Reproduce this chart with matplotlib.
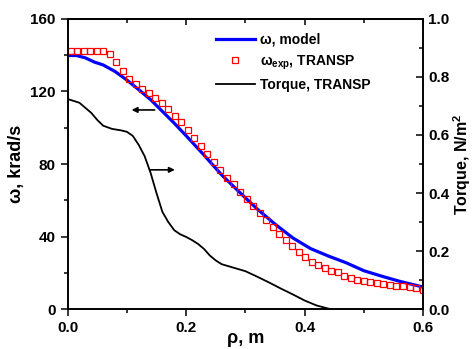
import matplotlib.pyplot as plt
from matplotlib.ticker import MultipleLocator

plt.rcParams['font.family'] = ['Liberation Sans', 'DejaVu Sans']
plt.rcParams['font.weight'] = 'bold'
plt.rcParams['mathtext.fontset'] = 'custom'
plt.rcParams['mathtext.rm'] = 'Liberation Sans:bold'
plt.rcParams['mathtext.bf'] = 'Liberation Sans:bold'
plt.rcParams['mathtext.it'] = 'Liberation Sans:bold'

# omega from the model (krad/s)
rho_model = [0.0, 0.015, 0.03, 0.045, 0.06, 0.08, 0.1, 0.12, 0.14, 0.16, 0.18,
             0.2, 0.23, 0.26, 0.29, 0.32, 0.35, 0.38, 0.41, 0.44, 0.47, 0.5,
             0.53, 0.56, 0.6]
omega_model = [139.8, 139.8, 138.5, 136.2, 134.6, 131.0, 126.3, 121.0, 115.5,
               109.0, 102.5, 95.6, 85.0, 74.0, 64.5, 55.2, 46.9, 39.3, 33.4,
               29.3, 25.6, 21.2, 18.2, 15.4, 12.2]

# omega_exp from TRANSP
rho_exp = [0.005, 0.016, 0.027, 0.038, 0.049, 0.060, 0.071, 0.082, 0.093,
           0.104, 0.115, 0.126, 0.137, 0.148, 0.159, 0.170, 0.181, 0.192,
           0.203, 0.214, 0.225, 0.236, 0.247, 0.258, 0.269, 0.280, 0.291,
           0.302, 0.313, 0.324, 0.335, 0.346, 0.357, 0.368, 0.379, 0.390,
           0.401, 0.412, 0.423, 0.434, 0.445, 0.456, 0.467, 0.478, 0.489,
           0.500, 0.511, 0.522, 0.533, 0.544, 0.555, 0.566, 0.577, 0.588,
           0.599]
omega_exp = [142.3, 142.3, 142.3, 142.3, 142.3, 142.3, 140.7, 136.3, 131.3,
             127.1, 124.3, 121.6, 119.0, 116.5, 113.7, 110.4, 106.7, 102.9,
             98.7, 94.2, 89.8, 85.4, 81.0, 76.6, 72.5, 68.9, 64.8, 61.0, 56.9,
             52.9, 49.0, 45.4, 41.7, 38.2, 34.7, 31.4, 28.7, 26.2, 24.4, 22.6,
             21.0, 20.5, 18.4, 17.1, 16.1, 15.4, 14.9, 14.3, 13.8, 13.4, 12.8,
             12.8, 12.5, 11.6, 10.8]

# torque from TRANSP (N/m^2)
rho_torque = [0.0, 0.02, 0.04, 0.05, 0.06, 0.075, 0.09, 0.1, 0.11, 0.12, 0.13,
              0.14, 0.15, 0.16, 0.17, 0.18, 0.19, 0.2, 0.21, 0.22, 0.23, 0.24,
              0.25, 0.26, 0.28, 0.3, 0.32, 0.34, 0.36, 0.38, 0.4, 0.42, 0.44,
              0.46, 0.48, 0.5, 0.53, 0.56, 0.6]
torque = [0.724, 0.711, 0.676, 0.652, 0.632, 0.621, 0.616, 0.611, 0.597,
          0.566, 0.527, 0.470, 0.400, 0.335, 0.300, 0.272, 0.258, 0.249,
          0.238, 0.225, 0.208, 0.185, 0.168, 0.155, 0.143, 0.131, 0.112,
          0.092, 0.071, 0.051, 0.030, 0.013, 0.002, -0.005, -0.009, -0.010,
          -0.010, -0.008, -0.003]

fig, ax = plt.subplots(figsize=(4.76, 3.49), dpi=100)
fig.subplots_adjust(left=0.142, right=0.889, bottom=0.114, top=0.946)
ax2 = ax.twinx()

l1, = ax.plot(rho_model, omega_model, color='#0000ff', lw=2.3,
              label='ω, model', zorder=3)
l2, = ax.plot(rho_exp, omega_exp, ls='none', marker='s', ms=3.8, mfc='none',
              mec='#ff0000', mew=0.9, label=r'ω$_{\mathrm{exp}}$, TRANSP',
              zorder=4)
l3, = ax2.plot(rho_torque, torque, color='black', lw=1.3,
               label='Torque, TRANSP')

ax.set_xlim(0, 0.6)
ax.set_ylim(0, 160)
ax2.set_ylim(0, 1.0)

ax.xaxis.set_major_locator(MultipleLocator(0.2))
ax.xaxis.set_minor_locator(MultipleLocator(0.1))
ax.yaxis.set_major_locator(MultipleLocator(40))
ax.yaxis.set_minor_locator(MultipleLocator(20))
ax2.yaxis.set_major_locator(MultipleLocator(0.2))
ax2.yaxis.set_minor_locator(MultipleLocator(0.1))

ax.tick_params(which='major', direction='out', length=5, width=1.1,
               labelsize=11, top=False, right=False)
ax.tick_params(which='minor', direction='out', length=3, width=1.1,
               top=False, right=False)
ax2.tick_params(which='major', direction='in', length=5, width=1.1,
                labelsize=11)
ax2.tick_params(which='minor', direction='in', length=3, width=1.1)

# top ticks point inward
top = ax.secondary_xaxis('top')
top.xaxis.set_major_locator(MultipleLocator(0.2))
top.xaxis.set_minor_locator(MultipleLocator(0.1))
top.tick_params(which='major', direction='in', length=4, width=1.1,
                labeltop=False)
top.tick_params(which='minor', direction='in', length=3, width=1.1)

for a in (ax, ax2):
    for s in a.spines.values():
        s.set_linewidth(1.2)
top.spines['top'].set_linewidth(1.2)

ax.set_xlabel('ρ, m', fontsize=13, fontweight='bold')
ax.set_ylabel('ω, krad/s', fontsize=13, fontweight='bold')
ax2.set_ylabel('Torque, N/m$^{2}$', fontsize=11.5, fontweight='bold')
ax.xaxis.set_label_coords(0.5, -0.071)
ax.yaxis.set_label_coords(-0.12, 0.5)
ax2.yaxis.set_label_coords(1.08, 0.5)

# arrows pointing to which axis each curve belongs to
ax.annotate('', xy=(0.108, 109.8), xytext=(0.147, 109.8),
            arrowprops=dict(arrowstyle='-|>', color='black', lw=1.2,
                            mutation_scale=8, shrinkA=0, shrinkB=0))
ax.annotate('', xy=(0.181, 76.8), xytext=(0.139, 76.8),
            arrowprops=dict(arrowstyle='-|>', color='black', lw=1.2,
                            mutation_scale=8, shrinkA=0, shrinkB=0))

ax2.legend(handles=[l1, l2, l3], loc='upper left',
           bbox_to_anchor=(216 / 476, 1 - 33 / 349),
           bbox_transform=fig.transFigure, frameon=False, fontsize=10,
           handlelength=2.8, handletextpad=0.35, labelspacing=0.45,
           borderpad=0, borderaxespad=0, numpoints=1)

plt.savefig('out.png', dpi=100)
